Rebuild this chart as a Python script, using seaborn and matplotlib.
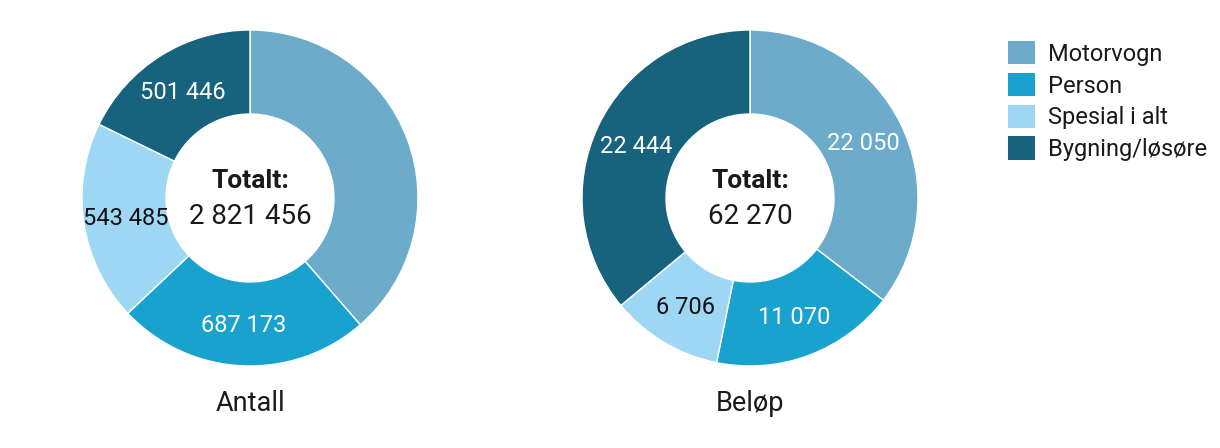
import matplotlib
matplotlib.use("Agg")
import matplotlib.pyplot as plt
from matplotlib.patches import Patch
import numpy as np
import seaborn as sns

categories = ["Motorvogn", "Person", "Spesial i alt", "Bygning/løsøre"]
antall = [1089352, 687173, 543485, 501446]
belop = [22050, 11070, 6706, 22444]
titles = ["Antall", "Beløp"]
colors = ["#6cacca", "#1aa2cf", "#9dd7f3", "#17627c"]
label_colors = ["white", "white", "#111111", "white"]
show_labels = [[False, True, True, True], [True, True, True, True]]

sns.set_theme(style="white")
plt.rcParams["font.family"] = ["Roboto", "DejaVu Sans"]

W, H = 1220, 448
fig = plt.figure(figsize=(W / 100, H / 100), dpi=100)

def fmt(v):
    return f"{v:,}".replace(",", " ")

centers = [(250, 198), (750, 198)]
R = 168
for (cx, cy), vals, title, show in zip(centers, [antall, belop], titles, show_labels):
    ax = fig.add_axes([(cx - R) / W, 1 - (cy + R) / H, 2 * R / W, 2 * R / H])
    wedges, _ = ax.pie(vals, colors=colors, startangle=90, counterclock=False,
                       radius=1.0, wedgeprops=dict(width=0.5, edgecolor="white", linewidth=1))
    for w, v, c, s in zip(wedges, vals, label_colors, show):
        if not s:
            continue
        ang = np.deg2rad((w.theta1 + w.theta2) / 2)
        ax.text(0.75 * np.cos(ang), 0.75 * np.sin(ang) - 0.01, fmt(v), ha="center", va="center",
                fontsize=17, color=c)
    ax.text(0, 0.1, "Totalt:", ha="center", va="center", fontsize=19, fontweight="bold", color="#1a1a1a")
    ax.text(0, -0.11, fmt(sum(vals)), ha="center", va="center", fontsize=20, color="#1a1a1a")
    ax.set_xlim(-1, 1)
    ax.set_ylim(-1, 1)
    ax.set_aspect("equal")
    ax.axis("off")
    fig.text(cx / W, 1 - 403 / H, title, ha="center", va="center", fontsize=19.5, color="#1a1a1a")

handles = [Patch(facecolor=c, edgecolor="none", label=l) for c, l in zip(colors, categories)]
fig.legend(handles=handles, loc="upper left", bbox_to_anchor=(1008 / W, 1 - 41 / H),
           frameon=False, fontsize=17, handlelength=1.15, handleheight=1.15,
           labelspacing=0.3, handletextpad=0.55, borderpad=0, borderaxespad=0,
           labelcolor="#1a1a1a")

fig.savefig("out.png", dpi=100)
